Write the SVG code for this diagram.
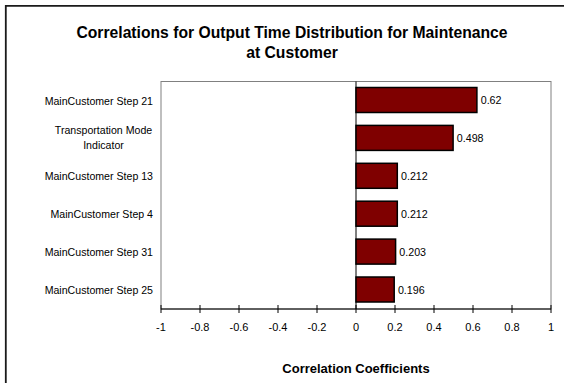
<svg xmlns="http://www.w3.org/2000/svg" width="564" height="383" viewBox="0 0 564 383">
  <style>
    .title { font-family: "Liberation Sans", Arial, sans-serif; font-weight: bold; font-size: 15.7px; fill: #000; text-anchor: middle; }
    .axis-title { font-family: "Liberation Sans", Arial, sans-serif; font-weight: bold; font-size: 13px; fill: #000; text-anchor: middle; }
    .cat { font-family: "Liberation Sans", Arial, sans-serif; font-size: 10.6px; fill: #000; text-anchor: end; }
    .cat-wrap { font-family: "Liberation Sans", Arial, sans-serif; font-size: 10.6px; fill: #000; text-anchor: middle; }
    .val { font-family: "Liberation Sans", Arial, sans-serif; font-size: 10.7px; fill: #000; }
    .tick-label { font-family: "Liberation Sans", Arial, sans-serif; font-size: 11px; fill: #000; text-anchor: middle; }
    .bar { fill: #7f0000; stroke: #000; stroke-width: 1.5; }
    .tick { stroke: #000; stroke-width: 1; }
  </style>

  <rect x="0" y="0" width="564" height="383" fill="#fff"/>

  <!-- chart frame (left and top edges visible) -->
  <path d="M5.8 383 V5.8 H564" fill="none" stroke="#1a1a1a" stroke-width="1.8"/>

  <!-- chart title -->
  <g id="title">
    <text class="title" x="292" y="37.5">Correlations for Output Time Distribution for Maintenance</text>
    <text class="title" x="292" y="57.5">at Customer</text>
  </g>

  <!-- plot area -->
  <g id="plot-area">
    <rect x="161" y="81.5" width="390" height="227.5" fill="#fff" stroke="#808080" stroke-width="1"/>
    <line x1="356" y1="81.5" x2="356" y2="309" stroke="#000" stroke-width="1"/>
  </g>

  <!-- category labels -->
  <g id="labels">
    <text class="cat" x="153" y="104.5">MainCustomer Step 21</text>
    <text class="cat-wrap" x="103.5" y="134">Transportation Mode</text>
    <text class="cat-wrap" x="103.5" y="149">Indicator</text>
    <text class="cat" x="153" y="180.3">MainCustomer Step 13</text>
    <text class="cat" x="153" y="218.2">MainCustomer Step 4</text>
    <text class="cat" x="153" y="256.1">MainCustomer Step 31</text>
    <text class="cat" x="153" y="294">MainCustomer Step 25</text>
  </g>

  <!-- bars: x = 356 + 195 * value -->
  <g id="bar-step21">
    <rect class="bar" x="356" y="87.5" width="120.9" height="25"/>
    <text class="val" x="480.7" y="104.2">0.62</text>
  </g>
  <g id="bar-transport">
    <rect class="bar" x="356" y="125.4" width="97.1" height="25"/>
    <text class="val" x="456.8" y="142.1">0.498</text>
  </g>
  <g id="bar-step13">
    <rect class="bar" x="356" y="163.3" width="41.3" height="25"/>
    <text class="val" x="401" y="180">0.212</text>
  </g>
  <g id="bar-step4">
    <rect class="bar" x="356" y="201.2" width="41.3" height="25"/>
    <text class="val" x="401" y="217.9">0.212</text>
  </g>
  <g id="bar-step31">
    <rect class="bar" x="356" y="239.1" width="39.6" height="25"/>
    <text class="val" x="399.3" y="255.8">0.203</text>
  </g>
  <g id="bar-step25">
    <rect class="bar" x="356" y="277" width="38.2" height="25"/>
    <text class="val" x="397.9" y="293.7">0.196</text>
  </g>

  <!-- value axis -->
  <g id="x-axis">
    <line x1="161" y1="309" x2="551" y2="309" stroke="#000" stroke-width="1"/>
    <g class="tick">
      <line x1="161" y1="305" x2="161" y2="313"/>
      <line x1="200" y1="305" x2="200" y2="313"/>
      <line x1="239" y1="305" x2="239" y2="313"/>
      <line x1="278" y1="305" x2="278" y2="313"/>
      <line x1="317" y1="305" x2="317" y2="313"/>
      <line x1="356" y1="305" x2="356" y2="313"/>
      <line x1="395" y1="305" x2="395" y2="313"/>
      <line x1="434" y1="305" x2="434" y2="313"/>
      <line x1="473" y1="305" x2="473" y2="313"/>
      <line x1="512" y1="305" x2="512" y2="313"/>
      <line x1="551" y1="305" x2="551" y2="313"/>
    </g>
    <text class="tick-label" x="161" y="331">-1</text>
    <text class="tick-label" x="200" y="331">-0.8</text>
    <text class="tick-label" x="239" y="331">-0.6</text>
    <text class="tick-label" x="278" y="331">-0.4</text>
    <text class="tick-label" x="317" y="331">-0.2</text>
    <text class="tick-label" x="356" y="331">0</text>
    <text class="tick-label" x="395" y="331">0.2</text>
    <text class="tick-label" x="434" y="331">0.4</text>
    <text class="tick-label" x="473" y="331">0.6</text>
    <text class="tick-label" x="512" y="331">0.8</text>
    <text class="tick-label" x="551" y="331">1</text>
  </g>

  <g id="axis-title">
    <text class="axis-title" x="356" y="372.5">Correlation Coefficients</text>
  </g>
</svg>
